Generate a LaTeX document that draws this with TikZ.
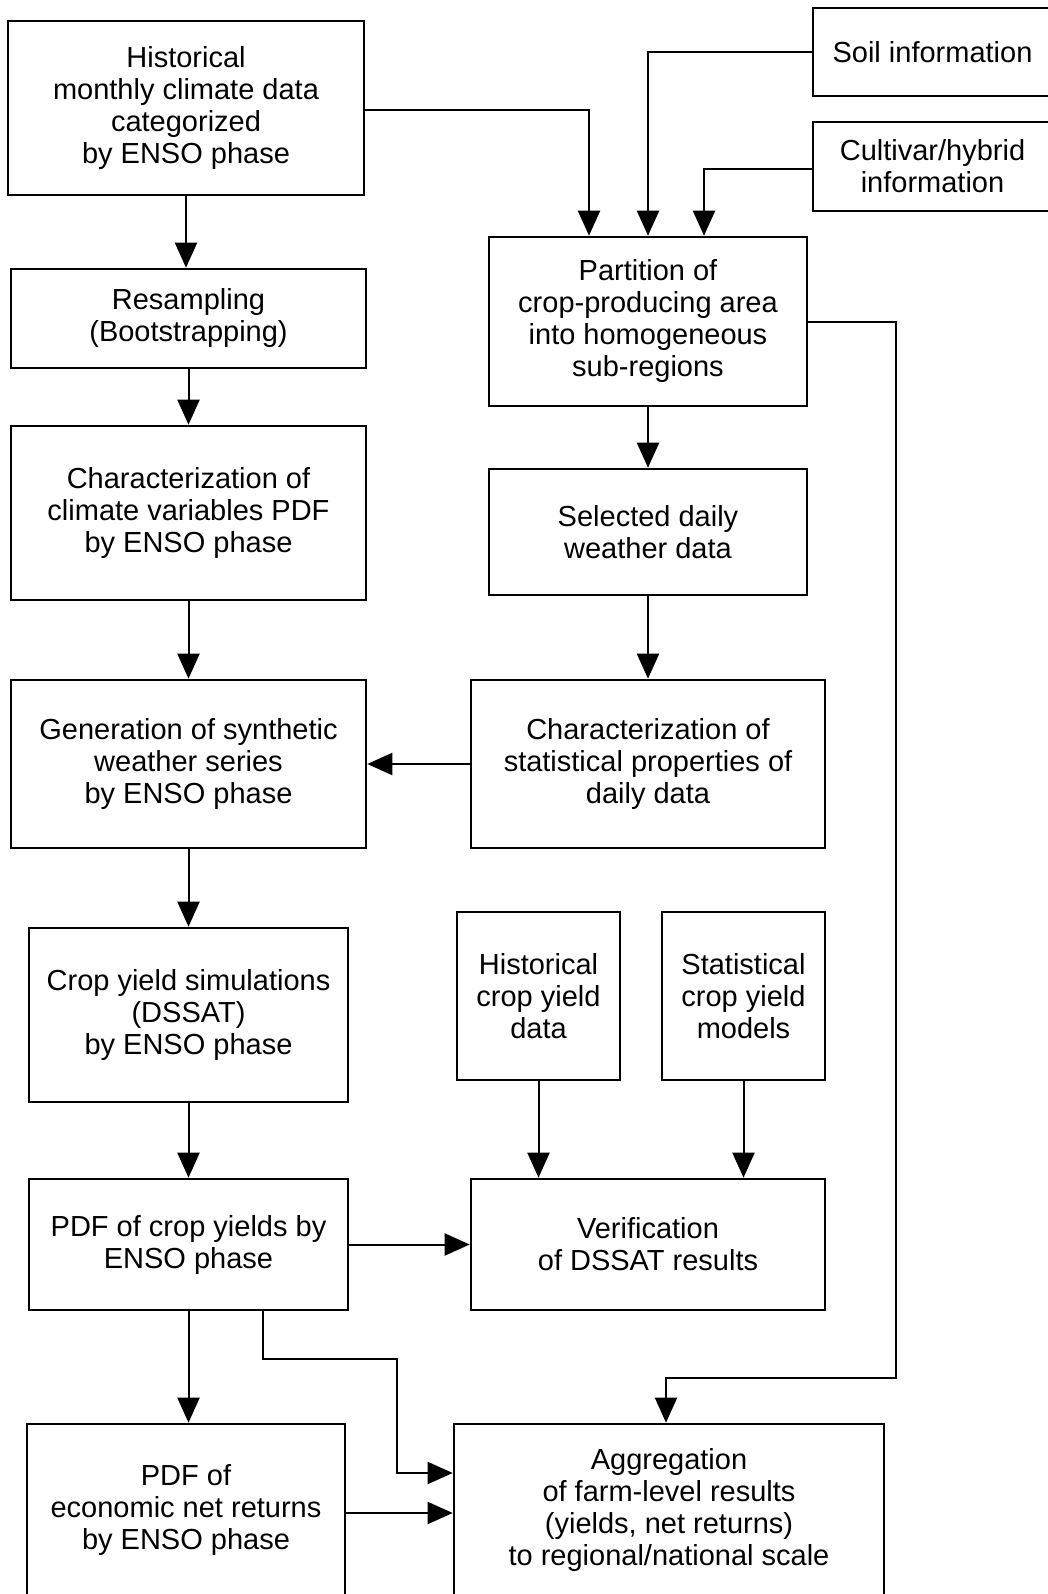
\documentclass[tikz,border=0pt]{standalone}
\usepackage{fontspec}
\setmainfont{Liberation Sans}
\usetikzlibrary{calc,arrows.meta}

\begin{document}
\begin{tikzpicture}[x=1pt,y=-1pt,
  blk/.style={draw,line width=2.6pt,align=center,inner sep=0pt,
    font={\fontsize{29pt}{32pt}\selectfont}},
  link/.style={line width=2pt,-{Triangle[length=25pt,width=22pt]}}]
\path[use as bounding box,clip] (0,0) rectangle (1048,1594);

% left column
\node[blk,minimum width=356pt,minimum height=174pt] (hist) at (186,108)
  {Historical\\monthly climate data\\categorized\\by ENSO phase};
\node[blk,minimum width=355pt,minimum height=99pt] (resamp) at (188.5,318.5)
  {Resampling\\(Bootstrapping)};
\node[blk,minimum width=355pt,minimum height=174pt] (climpdf) at (188.5,513)
  {Characterization of\\climate variables PDF\\by ENSO phase};
\node[blk,minimum width=355pt,minimum height=168pt] (synth) at (188.5,764)
  {Generation of synthetic\\weather series\\by ENSO phase};
\node[blk,minimum width=319pt,minimum height=174pt] (dssat) at (188.5,1015)
  {Crop yield simulations\\(DSSAT)\\by ENSO phase};
\node[blk,minimum width=319pt,minimum height=131pt] (pdfyield) at (188.5,1244.5)
  {PDF of crop yields by\\ENSO phase};
\node[blk,minimum width=318pt,minimum height=172pt] (pdfnet) at (186,1510)
  {PDF of\\economic net returns\\by ENSO phase};

% right column
\node[blk,minimum width=239pt,minimum height=88pt] (soil) at (932.5,52)
  {Soil information};
\node[blk,minimum width=239pt,minimum height=89pt] (cult) at (932.5,166.5)
  {Cultivar/hybrid\\information};
\node[blk,minimum width=318pt,minimum height=169pt] (part) at (648,321.5)
  {Partition of\\crop-producing area\\into homogeneous\\sub-regions};
\node[blk,minimum width=318pt,minimum height=126pt] (daily) at (648,532)
  {Selected daily\\weather data};
\node[blk,minimum width=354pt,minimum height=168pt] (stats) at (648,764)
  {Characterization of\\statistical properties of\\daily data};
\node[blk,minimum width=163pt,minimum height=168pt] (yielddat) at (538.5,996)
  {Historical\\crop yield\\data};
\node[blk,minimum width=163pt,minimum height=168pt] (yieldmod) at (743.5,996)
  {Statistical\\crop yield\\models};
\node[blk,minimum width=354pt,minimum height=131pt] (verif) at (648,1244.5)
  {Verification\\of DSSAT results};
\node[blk,minimum width=430pt,minimum height=172pt] (aggr) at (669,1510)
  {Aggregation\\of farm-level results\\(yields, net returns)\\to regional/national scale};

% connectors
\foreach \a/\b in {hist/resamp,resamp/climpdf,climpdf/synth,synth/dssat,
    dssat/pdfyield,pdfyield/pdfnet,part/daily,daily/stats,
    yielddat/verif,yieldmod/verif}{
  \draw[link] (\a.south) -- (\a.south |- \b.north);
}
\draw[link] ([yshift=-2pt]hist.east) -| ([xshift=-59pt]part.north);
\draw[link] (soil.west) -| (part.north);
\draw[link] ([yshift=-2.5pt]cult.west) -| ([xshift=56pt]part.north);
\draw[link] (stats.west) -- (synth.east);
\draw[link] (pdfyield.east) -- (verif.west);
\draw[link] ([yshift=-3pt]pdfnet.east) -- ([yshift=-3pt]aggr.west);

\coordinate (bend) at (397,1359);
\draw[link] ([xshift=74.5pt]pdfyield.south) |- (bend) |- ([yshift=37pt]aggr.west);
\coordinate (rail) at (896,1378);
\draw[link] (part.east) -| (rail) -| ([xshift=-3pt]aggr.north);
\end{tikzpicture}
\end{document}
